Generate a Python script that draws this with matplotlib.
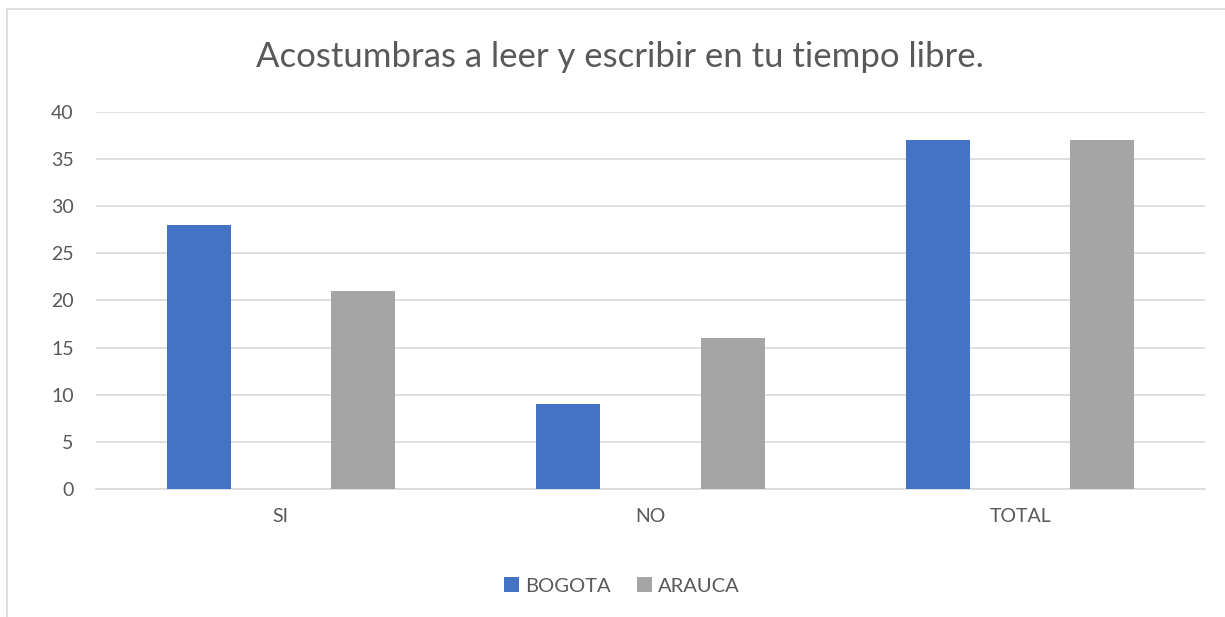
import matplotlib.pyplot as plt
import numpy as np
from matplotlib.patches import Rectangle

plt.rcParams['font.family'] = ['Lato', 'DejaVu Sans']

categories = ['SI', 'NO', 'TOTAL']
bogota = [28, 9, 37]
arauca = [21, 16, 37]
series_names = ['BOGOTA', 'ARAUCA']
colors = ['#4472C4', '#A5A5A5']
text_color = '#595959'
grid_color = '#D9D9D9'

fig = plt.figure(figsize=(12.25, 6.17), dpi=100)
W, H = 1225, 617

# outer chart border (only left and top fall inside the picture)
fig.patches.append(Rectangle((7 / W, -0.2), 1.3, 1.2 - 9 / H, transform=fig.transFigure,
                             fill=False, edgecolor=grid_color, lw=1.2))

ax = fig.add_axes([96 / W, 1 - 489 / H, (1205 - 96) / W, (489 - 112) / H])

x = np.arange(len(categories))
width = 0.173
offset = 0.222
ax.bar(x - offset, bogota, width, color=colors[0], label=series_names[0], zorder=3)
ax.bar(x + offset, arauca, width, color=colors[1], label=series_names[1], zorder=3)

ax.set_xlim(-0.5, len(categories) - 0.5)
ax.set_ylim(0, 40)
ax.set_yticks(range(0, 41, 5))
ax.set_xticks(x)
ax.set_xticklabels(categories)
ax.grid(axis='y', color=grid_color, lw=1.2, zorder=0)
for side in ['top', 'right', 'left']:
    ax.spines[side].set_visible(False)
ax.spines['bottom'].set_color(grid_color)
ax.spines['bottom'].set_linewidth(1.2)
ax.tick_params(length=0, colors=text_color, labelsize=14)
ax.tick_params(axis='y', pad=16)
ax.tick_params(axis='x', pad=14)

fig.text(620 / W, 1 - 57 / H, 'Acostumbras a leer y escribir en tu tiempo libre.',
         ha='center', va='center', fontsize=25, color=text_color)

fig.legend(loc='center', bbox_to_anchor=(622 / W, 1 - 586 / H), ncol=2, frameon=False,
           fontsize=14.5, labelcolor=text_color, handlelength=0.75, handleheight=0.75,
           handletextpad=0.3, columnspacing=1.3)

fig.savefig('out.png', dpi=100)
